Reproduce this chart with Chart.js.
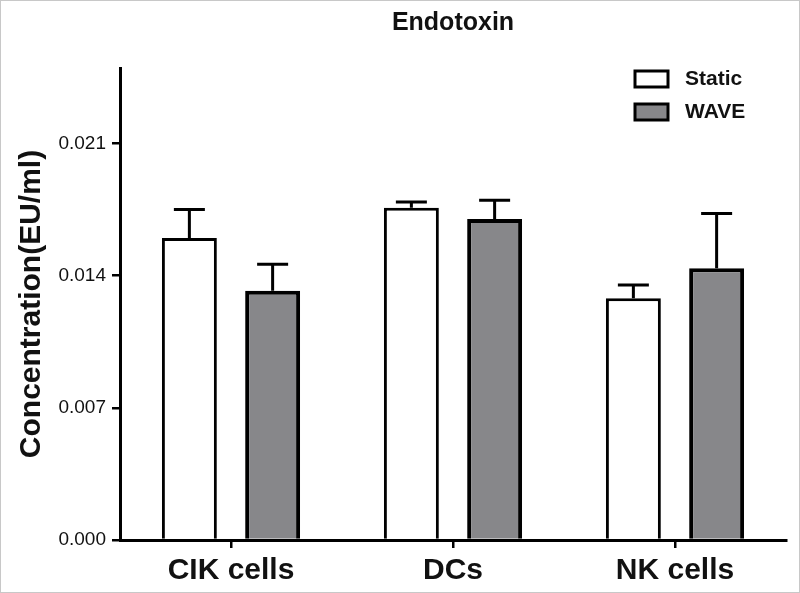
<!DOCTYPE html>
<html>
<head>
<meta charset="utf-8">
<script src="https://cdn.jsdelivr.net/npm/chart.js@4/dist/chart.umd.min.js"></script>
<style>
  html, body { margin: 0; padding: 0; background: #fff; }
  #wrap { width: 800px; height: 593px; box-sizing: border-box; border: 1px solid #c8c8c8; }
</style>
</head>
<body>
<div id="wrap"><canvas id="chart" width="798" height="591"></canvas></div>
<script>
// Data
const categories = ['CIK cells', 'DCs', 'NK cells'];
const staticMeans = [0.0160, 0.0176, 0.0128];
const staticErr = [0.0015, 0.0003, 0.0007];
const waveMeans = [0.0132, 0.0170, 0.0144];
const waveErr = [0.0014, 0.0010, 0.0029];
const yTicks = [0, 0.007, 0.014, 0.021];
const yMax = 0.025;

const FONT = '"Liberation Sans", Arial, sans-serif';

// upward-only error bars with caps
const errorBars = {
    id: 'errorBars',
    afterDatasetsDraw(chart) {
        const ctx = chart.ctx;
        const y = chart.scales.y;
        chart.data.datasets.forEach((ds, i) => {
            const meta = chart.getDatasetMeta(i);
            meta.data.forEach((bar, j) => {
                const top = y.getPixelForValue(ds.data[j] + ds.err[j]);
                ctx.save();
                ctx.strokeStyle = '#000';
                ctx.lineWidth = 3;
                ctx.beginPath();
                ctx.moveTo(bar.x, bar.y);
                ctx.lineTo(bar.x, top);
                ctx.moveTo(bar.x - 15.5, top);
                ctx.lineTo(bar.x + 15.5, top);
                ctx.stroke();
                ctx.restore();
            });
        });
    }
};

// legend in the upper right of the plot
const boxLegend = {
    id: 'boxLegend',
    afterDraw(chart) {
        const ctx = chart.ctx;
        const area = chart.chartArea;
        const x0 = area.right - 151;
        chart.data.datasets.forEach((ds, i) => {
            const yy = area.top + 3 + i * 33;
            ctx.save();
            ctx.fillStyle = ds.backgroundColor;
            ctx.fillRect(x0, yy, 33, 16);
            ctx.strokeStyle = '#000';
            ctx.lineWidth = 3;
            ctx.strokeRect(x0, yy, 33, 16);
            ctx.fillStyle = '#111';
            ctx.font = 'bold 21px ' + FONT;
            ctx.textBaseline = 'middle';
            ctx.fillText(ds.label, x0 + 50, yy + 8);
            ctx.restore();
        });
    }
};

new Chart(document.getElementById('chart'), {
    type: 'bar',
    data: {
        labels: categories,
        datasets: [
            {
                label: 'Static',
                data: staticMeans,
                err: staticErr,
                backgroundColor: '#ffffff',
                borderColor: '#000',
                borderWidth: 3
            },
            {
                label: 'WAVE',
                data: waveMeans,
                err: waveErr,
                backgroundColor: '#87878a',
                borderColor: '#000',
                borderWidth: 4
            }
        ]
    },
    options: {
        responsive: false,
        animation: false,
        layout: { padding: { left: 13, right: 13, top: 0, bottom: 0 } },
        datasets: { bar: { categoryPercentage: 0.75, barPercentage: 0.66 } },
        plugins: {
            legend: { display: false },
            tooltip: { enabled: false },
            title: {
                display: true,
                text: 'Endotoxin',
                fullSize: false,
                color: '#111',
                font: { family: FONT, size: 25, weight: 'bold' },
                padding: { top: 7, bottom: 30 }
            }
        },
        scales: {
            x: {
                offset: true,
                border: { display: true, color: '#000', width: 3 },
                grid: { display: true, offset: false, drawOnChartArea: false, drawTicks: true, tickLength: 8, color: '#000', lineWidth: 2.5 },
                ticks: { color: '#111', padding: 5, font: { family: FONT, size: 30, weight: 'bold' } },
                afterFit(s) { s.height = 52; }
            },
            y: {
                min: 0,
                max: yMax,
                afterBuildTicks(s) { s.ticks = yTicks.map(v => ({ value: v })); },
                border: { display: true, color: '#000', width: 3 },
                grid: { display: true, drawOnChartArea: false, drawTicks: true, tickLength: 8, color: '#000', lineWidth: 2.5 },
                ticks: {
                    color: '#111',
                    padding: 6,
                    font: { family: FONT, size: 19 },
                    callback: v => v.toFixed(3)
                },
                title: {
                    display: true,
                    text: 'Concentration(EU/ml)',
                    color: '#111',
                    font: { family: FONT, size: 30, weight: 'bold' },
                    padding: { top: 0, bottom: 6 }
                },
                afterFit(s) { s.width = 106; }
            }
        }
    },
    plugins: [errorBars, boxLegend]
});
</script>
</body>
</html>
